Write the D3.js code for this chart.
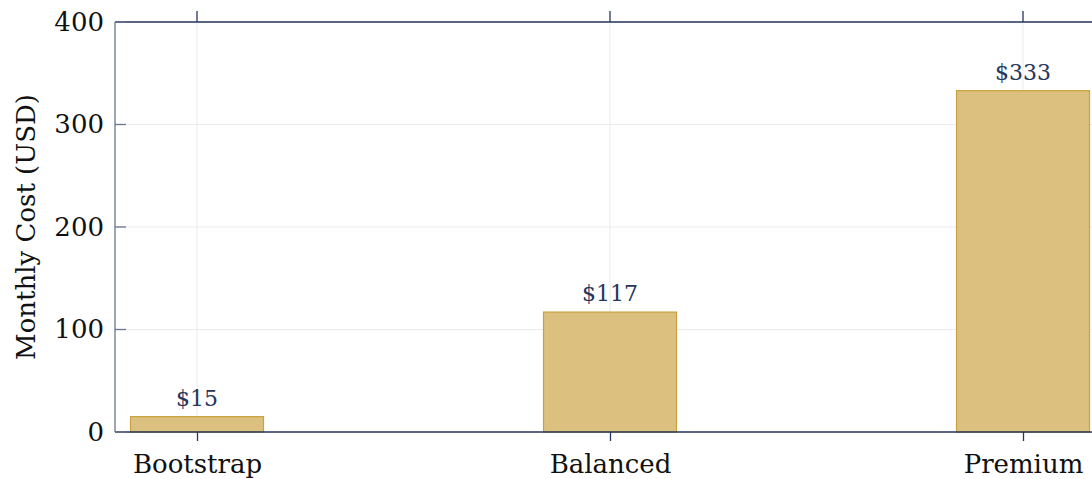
<!DOCTYPE html>
<html><head><meta charset="utf-8">
<script src="https://cdn.jsdelivr.net/npm/d3@7"></script>
<style>body{margin:0;background:#fff}svg{display:block}text{font-family:"DejaVu Serif",serif}</style>
</head><body><svg id="c" width="1092" height="479"></svg>
<script>
const categories = ["Bootstrap","Balanced","Premium"];
const costs = [15,117,333];
const yTicks = [0,100,200,300,400];
const yLabel = "Monthly Cost (USD)";

const svg = d3.select("#c");
const L=115, R=1105, T=22, B=432;
const x = d3.scalePoint().domain(categories).range([197,1023]);
const y = d3.scaleLinear().domain([0,400]).range([B,T]);
const bw = 133;
const navy = "#26355a";
const ff = "DejaVu Serif, serif";

// grid
svg.append("g").selectAll("line").data(yTicks).join("line")
  .attr("x1",L).attr("x2",R).attr("y1",d=>y(d)).attr("y2",d=>y(d))
  .attr("stroke","#ebebeb").attr("stroke-width",1);
svg.append("g").selectAll("line").data(categories).join("line")
  .attr("x1",d=>x(d)).attr("x2",d=>x(d)).attr("y1",T).attr("y2",B)
  .attr("stroke","#ebebeb").attr("stroke-width",1);

// bars
svg.append("g").selectAll("rect").data(costs).join("rect")
  .attr("x",(d,i)=>x(categories[i])-bw/2).attr("width",bw)
  .attr("y",d=>y(d)).attr("height",d=>B-y(d))
  .attr("fill","#dbc07f").attr("stroke","#c9a23f").attr("stroke-width",1.2);

// value labels
svg.append("g").selectAll("text").data(costs).join("text")
  .attr("x",(d,i)=>x(categories[i])).attr("y",d=>y(d)-11)
  .attr("text-anchor","middle").attr("fill",navy).attr("font-size",22).attr("font-family",ff)
  .text(d=>"$"+d);

// frame
svg.append("line").attr("x1",L).attr("x2",R).attr("y1",T).attr("y2",T).attr("stroke",navy).attr("stroke-width",1.3);
svg.append("line").attr("x1",L).attr("x2",R).attr("y1",B).attr("y2",B).attr("stroke",navy).attr("stroke-width",1.3);
svg.append("line").attr("x1",L).attr("x2",L).attr("y1",T).attr("y2",B).attr("stroke","#6b7591").attr("stroke-width",1.3);

// y axis ticks and labels
const yAxis = d3.axisLeft(y).tickValues(yTicks).tickSize(0).tickPadding(11);
const gy = svg.append("g").attr("transform",`translate(${L},0)`).call(yAxis);
gy.select(".domain").remove();
gy.selectAll("text").attr("font-size",26).attr("fill","#111").attr("font-family",ff);
svg.append("g").selectAll("line").data(yTicks).join("line")
  .attr("x1",L).attr("x2",L+11).attr("y1",d=>y(d)).attr("y2",d=>y(d))
  .attr("stroke","#6b7591").attr("stroke-width",1.3);

// x axis ticks and labels
const xAxis = d3.axisBottom(x).tickSize(9).tickPadding(14);
const gx = svg.append("g").attr("transform",`translate(0,${B})`).call(xAxis);
gx.select(".domain").remove();
gx.selectAll("line").attr("stroke",navy).attr("stroke-width",1.3);
gx.selectAll("text").attr("font-size",26).attr("fill","#111").attr("font-family",ff);
svg.append("g").selectAll("line").data(categories).join("line")
  .attr("x1",d=>x(d)).attr("x2",d=>x(d)).attr("y1",T-11).attr("y2",T)
  .attr("stroke",navy).attr("stroke-width",1.3);

// y label
svg.append("text").attr("transform",`translate(35,${(T+B)/2}) rotate(-90)`)
  .attr("text-anchor","middle").attr("font-size",26).attr("fill","#111").attr("font-family",ff).text(yLabel);
</script></body></html>
